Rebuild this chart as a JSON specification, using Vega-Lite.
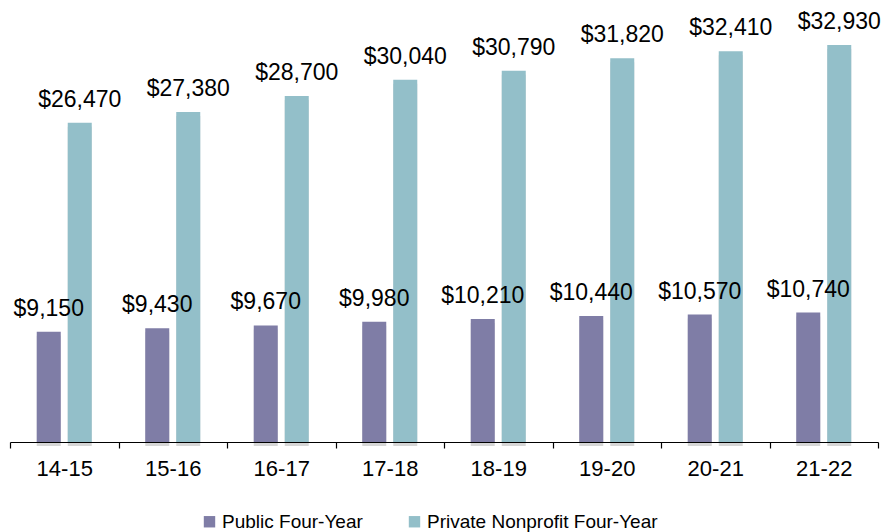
{
  "$schema": "https://vega.github.io/schema/vega-lite/v6.json",
  "autosize": "none",
  "width": 868,
  "height": 422,
  "padding": {"left": 10, "top": 20, "right": 6, "bottom": 90},
  "background": "white",
  "config": {"view": {"stroke": null}, "font": "Liberation Sans"},
  "data": {"values": [
    {"year": "14-15", "series": "Public Four-Year", "value": 9150},
    {"year": "14-15", "series": "Private Nonprofit Four-Year", "value": 26470},
    {"year": "15-16", "series": "Public Four-Year", "value": 9430},
    {"year": "15-16", "series": "Private Nonprofit Four-Year", "value": 27380},
    {"year": "16-17", "series": "Public Four-Year", "value": 9670},
    {"year": "16-17", "series": "Private Nonprofit Four-Year", "value": 28700},
    {"year": "17-18", "series": "Public Four-Year", "value": 9980},
    {"year": "17-18", "series": "Private Nonprofit Four-Year", "value": 30040},
    {"year": "18-19", "series": "Public Four-Year", "value": 10210},
    {"year": "18-19", "series": "Private Nonprofit Four-Year", "value": 30790},
    {"year": "19-20", "series": "Public Four-Year", "value": 10440},
    {"year": "19-20", "series": "Private Nonprofit Four-Year", "value": 31820},
    {"year": "20-21", "series": "Public Four-Year", "value": 10570},
    {"year": "20-21", "series": "Private Nonprofit Four-Year", "value": 32410},
    {"year": "21-22", "series": "Public Four-Year", "value": 10740},
    {"year": "21-22", "series": "Private Nonprofit Four-Year", "value": 32930}
  ]},
  "encoding": {
    "x": {"field": "year", "type": "nominal", "scale": {"paddingInner": 0, "paddingOuter": 0},
      "axis": {"title": null, "labelAngle": 0, "labelFontSize": 22, "labelColor": "#000", "domainColor": "#000", "tickColor": "#000", "tickBand": "extent", "tickSize": 6, "labelPadding": 10, "domainWidth": 1.2, "tickWidth": 1.2}},
    "xOffset": {"field": "series", "type": "nominal", "sort": ["Public Four-Year", "Private Nonprofit Four-Year"], "scale": {"paddingInner": 0.2258, "paddingOuter": 0.863}},
    "y": {"field": "value", "type": "quantitative", "scale": {"domain": [0, 35000]}, "axis": null}
  },
  "layer": [
    {
      "mark": {"type": "bar", "color": "#000", "opacity": 0.16, "xOffset": 4, "yOffset": 4},
      "encoding": {}
    },
    {
      "mark": {"type": "bar"},
      "encoding": {
        "color": {"field": "series", "type": "nominal", "sort": ["Public Four-Year", "Private Nonprofit Four-Year"],
          "scale": {"range": ["#7f7da6", "#93bfc9"]},
          "legend": {"title": null, "orient": "none", "legendX": 190, "legendY": 492, "direction": "horizontal", "symbolType": "square", "symbolSize": 130, "symbolOpacity": 1, "labelFontSize": 19, "labelColor": "#000", "columnPadding": 42, "labelOffset": 3, "labelLimit": 500}}
      }
    },
    {
      "mark": {"type": "text", "baseline": "alphabetic", "dy": -16, "fontSize": 23, "color": "#000"},
      "encoding": {"text": {"field": "value", "type": "quantitative", "format": "$,.0f"}}
    }
  ]
}
